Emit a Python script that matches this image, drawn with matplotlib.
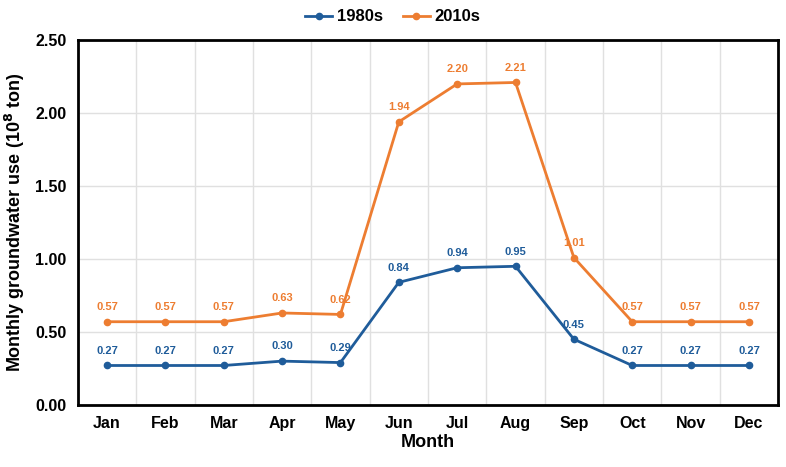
import numpy as np
import matplotlib.pyplot as plt

months = ['Jan', 'Feb', 'Mar', 'Apr', 'May', 'Jun', 'Jul', 'Aug', 'Sep', 'Oct', 'Nov', 'Dec']
use_1980s = [0.27, 0.27, 0.27, 0.30, 0.29, 0.84, 0.94, 0.95, 0.45, 0.27, 0.27, 0.27]
use_2010s = [0.57, 0.57, 0.57, 0.63, 0.62, 1.94, 2.20, 2.21, 1.01, 0.57, 0.57, 0.57]

plt.rcParams['font.family'] = ['Liberation Sans', 'DejaVu Sans']
plt.rcParams['font.weight'] = 'bold'

blue = '#1F5C9A'
orange = '#ED7D31'

fig = plt.figure(figsize=(7.86, 4.67), dpi=100)
ax = fig.add_axes([0.099, 0.133, 0.891, 0.781])

x = np.arange(len(months))
ax.plot(x, use_1980s, color=blue, lw=2, marker='o', ms=4.5, label='1980s', zorder=3)
ax.plot(x, use_2010s, color=orange, lw=2, marker='o', ms=4.5, label='2010s', zorder=3)

for xi, v in zip(x, use_1980s):
    ax.annotate(f'{v:.2f}', (xi, v), xytext=(0, 7), textcoords='offset points',
                ha='center', va='bottom', fontsize=8, fontweight='bold', color=blue)
for xi, v in zip(x, use_2010s):
    ax.annotate(f'{v:.2f}', (xi, v), xytext=(0, 7), textcoords='offset points',
                ha='center', va='bottom', fontsize=8, fontweight='bold', color=orange)

ax.set_xlim(-0.5, len(months) - 0.5)
ax.set_ylim(0, 2.5)
ax.set_xticks(x)
ax.set_xticklabels(months, fontsize=11.5, fontweight='bold')
ax.set_xticks(np.arange(0.5, len(months) - 1, 1), minor=True)
ax.set_yticks(np.arange(0, 2.51, 0.5))
ax.set_yticklabels([f'{v:.2f}' for v in np.arange(0, 2.51, 0.5)], fontsize=11.5, fontweight='bold')
ax.tick_params(axis='both', which='both', length=0, pad=8)
ax.grid(True, axis='y', which='major', color='#e0e0e0', lw=1)
ax.grid(True, axis='x', which='minor', color='#e0e0e0', lw=1)
ax.set_axisbelow(True)
for s in ax.spines.values():
    s.set_linewidth(2)
    s.set_color('black')

ax.set_xlabel('Month', fontsize=13, fontweight='bold', labelpad=2)
ax.set_ylabel('Monthly groundwater use (10$^{\\mathbf{8}}$ ton)', fontsize=13, fontweight='bold', labelpad=6)

fig.legend(loc='upper center', bbox_to_anchor=(0.5, 1.012), ncol=2, frameon=False,
           handlelength=1.6, columnspacing=1.2, handletextpad=0.3,
           prop={'weight': 'bold', 'size': 12})

fig.savefig('out.png', dpi=100)
